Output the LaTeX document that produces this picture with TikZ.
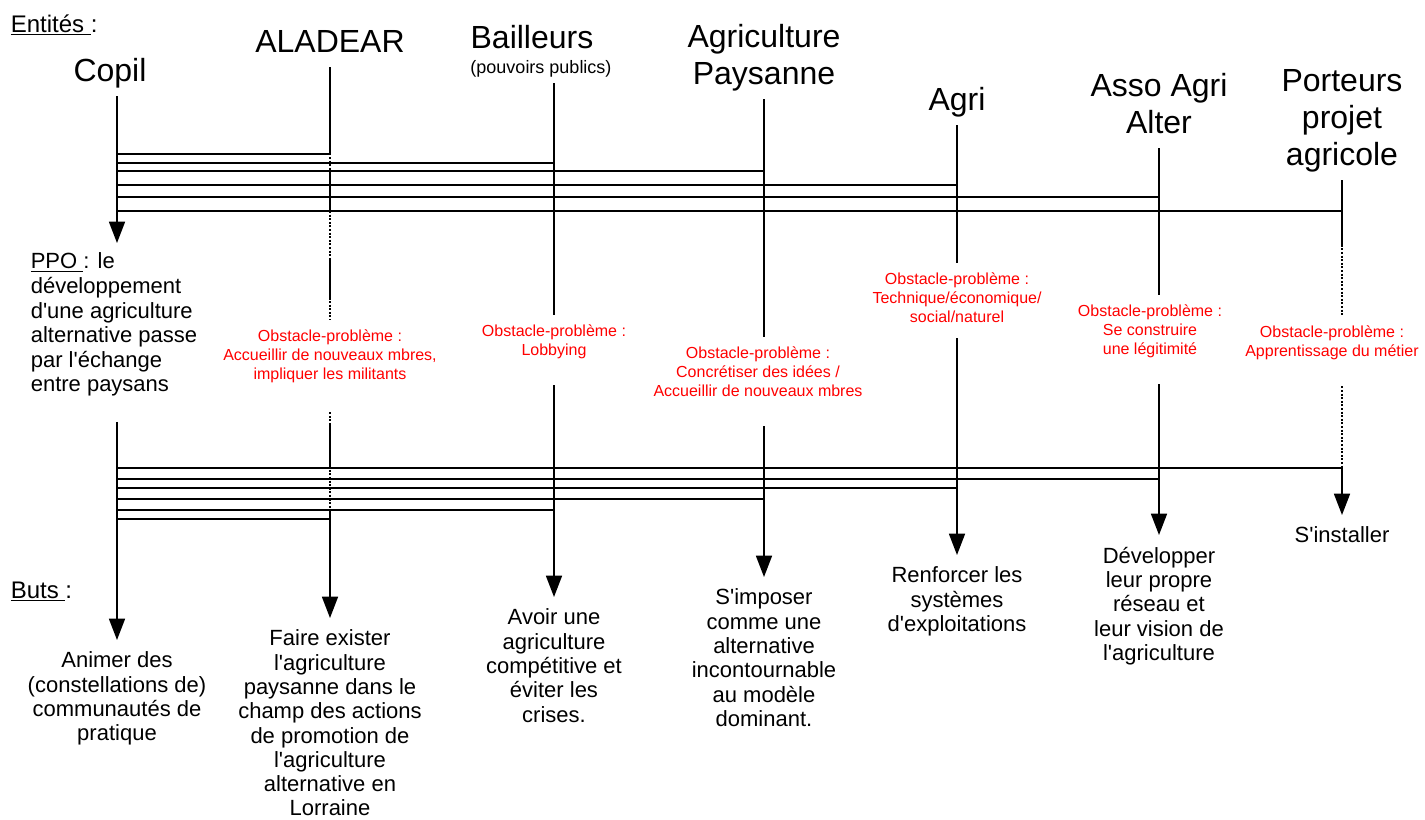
\documentclass[tikz,border=0pt]{standalone}
\usepackage{fontspec}
\setmainfont{Liberation Sans}[Ligatures=TeXOff]
\usetikzlibrary{arrows.meta}

\begin{document}
\begin{tikzpicture}[x=0.75pt, y=-0.75pt, >={Triangle[length=16pt, width=12pt]}, line width=1.2pt]
	\tikzstyle{entite}=[font=\fontsize{24}{27.75}\selectfont, align=center, inner sep=0pt, outer ysep=2.2pt, execute at end node=\strut]
	\tikzstyle{obstacle}=[text=red, font=\fontsize{12}{14.25}\selectfont, align=center, inner sep=0pt, outer ysep=7.5pt, anchor=north, execute at end node=\strut]
	\tikzstyle{but}=[font=\fontsize{16.5}{18.2}\selectfont, align=center, inner sep=0pt, outer ysep=9pt, anchor=north]
	\tikzstyle{titre}=[font=\fontsize{18}{21}\selectfont, inner sep=0pt, anchor=base west]
	\tikzstyle{pointille}=[dash pattern=on 1.5pt off 1.2pt]

	\useasboundingbox (0,0) rectangle (1425,819);

	\node[titre] (entites) at (10,32) {\underline{Entités\ }:};
	\node[titre] (buts) at (10,598) {\underline{Buts\ }:};

	\node[entite, anchor=south] (copil) at (110,96) {Copil};
	\node[entite, anchor=south] (aladear) at (330,67) {ALADEAR};
	\node[entite, anchor=south, font=\fontsize{13.5}{15.5}\selectfont] (pp) at (541,83) {(pouvoirs publics)};
	\node[entite, anchor=base] (bailleurs) at (532,48) {Bailleurs};
	\node[entite, anchor=south] (agripay) at (764,99) {Agriculture\\Paysanne};
	\node[entite, anchor=south] (agri) at (957,125) {Agri};
	\node[entite, anchor=south] (asso) at (1159,148) {Asso Agri\\Alter};
	\node[entite, anchor=south] (porteurs) at (1342,180) {Porteurs\\projet\\agricole};

	\node[font=\fontsize{16.5}{18.4}\selectfont, align=left, inner sep=0pt, outer ysep=7.5pt, anchor=north west, execute at end node=\strut] (ppo) at (30,243) {\underline{PPO\ }: le\\développement\\d'une agriculture\\alternative passe\\par l'échange\\entre paysans};

	\node[obstacle] (obsA) at (330,320) {Obstacle-problème :\\Accueillir de nouveaux mbres,\\impliquer les militants};
	\node[obstacle] (obsB) at (554,315) {Obstacle-problème :\\Lobbying};
	\node[obstacle] (obsC) at (758,337) {Obstacle-problème :\\Concrétiser des idées /\\Accueillir de nouveaux mbres};
	\node[obstacle] (obsD) at (957,263) {Obstacle-problème :\\Technique/économique/\\social/naturel};
	\node[obstacle] (obsE) at (1150,295) {Obstacle-problème :\\Se construire\\une légitimité};
	\node[obstacle] (obsF) at (1332,316) {Obstacle-problème :\\Apprentissage du métier};

	\node[but] (butCopil) at (117,640) {Animer des\\(constellations de)\\communautés de\\pratique};
	\node[but] (butA) at (330,618) {Faire exister\\l'agriculture\\paysanne dans le\\champ des actions\\de promotion de\\l'agriculture\\alternative en\\Lorraine};
	\node[but] (butB) at (554,597) {Avoir une\\agriculture\\compétitive et\\éviter les\\crises.};
	\node[but] (butC) at (764,577) {S'imposer\\comme une\\alternative\\incontournable\\au modèle\\dominant.};
	\node[but] (butD) at (957,555) {Renforcer les\\systèmes\\d'exploitations};
	\node[but] (butE) at (1159,535) {Développer\\leur propre\\réseau et\\leur vision de\\l'agriculture};
	\node[but] (butF) at (1342,515) {S'installer};

	\coordinate (hA) at (0,154);
	\coordinate (hB) at (0,163);
	\coordinate (hC) at (0,171);
	\coordinate (hD) at (0,185);
	\coordinate (hE) at (0,197);
	\coordinate (hF) at (0,211);
	\coordinate (bF) at (0,468);
	\coordinate (bE) at (0,479);
	\coordinate (bD) at (0,488);
	\coordinate (bC) at (0,499);
	\coordinate (bB) at (0,510);
	\coordinate (bA) at (0,519);

	\draw (butCopil |- hA) -- (butA |- hA);
	\draw (butCopil |- hB) -- (butB |- hB);
	\draw (butCopil |- hC) -- (butC |- hC);
	\draw (butCopil |- hD) -- (butD |- hD);
	\draw (butCopil |- hE) -- (butE |- hE);
	\draw (butCopil |- hF) -- (butF |- hF);

	\draw (butCopil |- bF) -- (butF |- bF);
	\draw (butCopil |- bE) -- (butE |- bE);
	\draw (butCopil |- bD) -- (butD |- bD);
	\draw (butCopil |- bC) -- (butC |- bC);
	\draw (butCopil |- bB) -- (butB |- bB);
	\draw (butCopil |- bA) -- (butA |- bA);

	\draw[->] (copil.south -| butCopil) -- (butCopil |- ppo.north);
	\draw[->, shorten <=9.75pt] (butCopil |- ppo.south) -- (butCopil);

	\draw[pointille] (aladear) -- (obsA);
	\draw (aladear) -- (butA |- hA);
	\draw (butA |- hC) -- (butA |- hF);
	\draw[shorten <=36pt, shorten >=15pt] (butA |- hF) -- (obsA);
	\draw[pointille, shorten <=12.5pt] (obsA) -- (butA |- bB);
	\draw[shorten <=20.75pt] (obsA) -- (butA |- bF);
	\draw[->] (butA |- bB) -- (butA);

	\draw (pp.south -| butB) -- (obsB);
	\draw[->, shorten <=10.5pt] (obsB) -- (butB);

	\draw (agripay) -- (agripay |- obsC.north);
	\draw[->, shorten <=10.5pt] (agripay |- obsC.south) -- (butC);

	\draw (agri) -- (obsD);
	\draw[->] (obsD) -- (butD);

	\draw (asso) -- (asso |- obsE.north);
	\draw[->, shorten <=10.5pt] (asso |- obsE.south) -- (butE);

	\draw[pointille] (porteurs) -- (porteurs |- obsF.north);
	\draw[shorten >=53pt] (porteurs) -- (porteurs |- obsF.north);
	\draw[pointille, shorten <=10.5pt] (porteurs |- obsF.south) -- (butF |- bF);
	\draw[->] (butF |- bF) -- (butF);
\end{tikzpicture}
\end{document}
